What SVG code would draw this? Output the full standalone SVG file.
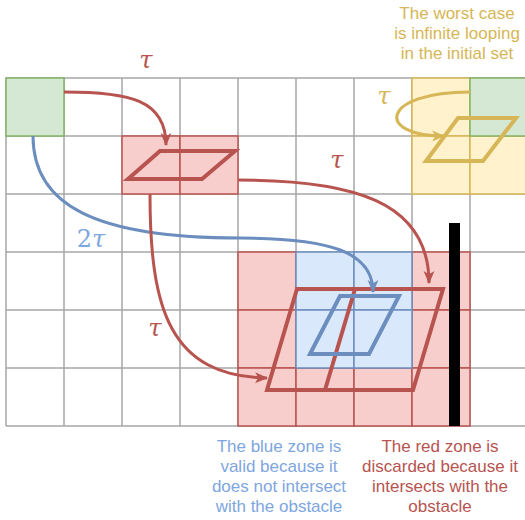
<svg xmlns="http://www.w3.org/2000/svg" width="525" height="520" viewBox="0 0 525 520">
<defs>
<style>
.grid{stroke:#a6a6a6;stroke-width:1.5;fill:none}
.g{fill:#d5e8d4;stroke:#82b366;stroke-width:1.5}
.y{fill:#fff2cc;stroke:#d6b656;stroke-width:1.5}
.r{fill:#f8cecc;stroke:#b85450;stroke-width:1.5}
.b{fill:#dae8fc;stroke:#6c8ebf;stroke-width:1.5}
.pr{fill:none;stroke:#b85450;stroke-width:4;stroke-linejoin:miter}
.pb{fill:none;stroke:#6c8ebf;stroke-width:4}
.py{fill:none;stroke:#d6b656;stroke-width:4}
.cr{fill:none;stroke:#b85450;stroke-width:3}
.cb{fill:none;stroke:#6c8ebf;stroke-width:3}
.cy{fill:none;stroke:#d6b656;stroke-width:3}
.t{font-family:"Liberation Sans",Arial,sans-serif;font-size:17px;text-anchor:middle}
.tau{font-family:"DejaVu Serif","Liberation Serif",serif;font-style:italic;font-size:24px;text-anchor:middle}
.two{font-family:"DejaVu Serif","Liberation Serif",serif;font-style:normal;font-size:24px;text-anchor:middle}
</style>
<marker id="ar" viewBox="0 0 12 12" refX="11" refY="6" markerWidth="13" markerHeight="13" markerUnits="userSpaceOnUse" orient="auto"><path d="M0,1 L12,6 L0,11 L3,6 z" fill="#b85450"/></marker>
<marker id="ab" viewBox="0 0 12 12" refX="11" refY="6" markerWidth="13" markerHeight="13" markerUnits="userSpaceOnUse" orient="auto"><path d="M0,1 L12,6 L0,11 L3,6 z" fill="#6c8ebf"/></marker>
<marker id="ay" viewBox="0 0 12 12" refX="11" refY="6" markerWidth="13" markerHeight="13" markerUnits="userSpaceOnUse" orient="auto"><path d="M0,1 L12,6 L0,11 L3,6 z" fill="#d6b656"/></marker>
</defs>
<rect width="525" height="520" fill="#ffffff"/>
<g id="grid" class="grid">
<path d="M6,78V426M64,78V426M122,78V426M180,78V426M238,78V426M296,78V426M354,78V426M412,78V426M470,78V426"/>
<path d="M6,78H528M6,136H528M6,194H528M6,252H528M6,310H528M6,368H528M6,426H528"/>
</g>
<g id="start">
<rect class="g" x="6" y="78" width="58" height="58"/>
</g>
<g id="yellow-zone">
<rect class="y" x="412" y="78" width="58" height="58"/>
<rect class="y" x="412" y="136" width="58" height="58"/>
<rect class="y" x="470" y="136" width="58" height="58"/>
<rect class="g" x="470" y="78" width="58" height="58"/>
<polygon class="py" points="458,118 516,118 483,161 426,161"/>
</g>
<g id="red-small">
<rect class="r" x="122" y="136" width="58" height="58"/>
<rect class="r" x="180" y="136" width="58" height="58"/>
<polygon class="pr" points="160,151 235,151 202,179 128,179"/>
</g>
<g id="red-zone">
<rect class="r" x="238" y="252" width="58" height="58"/>
<rect class="r" x="412" y="252" width="58" height="58"/>
<rect class="r" x="238" y="310" width="58" height="58"/>
<rect class="r" x="412" y="310" width="58" height="58"/>
<rect class="r" x="238" y="368" width="58" height="58"/>
<rect class="r" x="296" y="368" width="58" height="58"/>
<rect class="r" x="354" y="368" width="58" height="58"/>
<rect class="r" x="412" y="368" width="58" height="58"/>
</g>
<g id="blue-zone">
<rect class="b" x="296" y="252" width="58" height="58"/>
<rect class="b" x="354" y="252" width="58" height="58"/>
<rect class="b" x="296" y="310" width="58" height="58"/>
<rect class="b" x="354" y="310" width="58" height="58"/>
</g>
<g id="big-parallelogram">
<polygon class="pr" points="297,289 443,289 413,390 267,390"/>
<line class="pr" x1="355" y1="289" x2="325" y2="390"/>
</g>
<g id="blue-parallelogram">
<polygon class="pb" points="340,296 399,296 369,354 310,354"/>
</g>
<g id="obstacle">
<rect x="449" y="223" width="11" height="203" fill="#000000"/>
</g>
<g id="connectors">
<path class="cr" d="M64,92 C130,92 166,100 166,145" marker-end="url(#ar)"/>
<path class="cb" d="M33,136 C33,205 95,238 240,238 C330,238 373,252 373,292" marker-end="url(#ab)"/>
<path class="cr" d="M238,180 C350,180 429,200 429,283" marker-end="url(#ar)"/>
<path class="cr" d="M150,194 C150,310 170,376 267,378" marker-end="url(#ar)"/>
<path class="cy" d="M470,92 C380,92 375,136 444,136" marker-end="url(#ay)"/>
</g>
<g id="labels">
<text class="tau" x="146" y="68" fill="#b85450">τ</text>
<text class="tau" x="337" y="168" fill="#b85450">τ</text>
<text class="tau" x="155" y="336" fill="#b85450">τ</text>
<text class="tau" x="384" y="104" fill="#d6b656">τ</text>
<text class="two" x="91" y="247" fill="#7ea6e0">2<tspan style="font-style:italic">τ</tspan></text>
<text class="t" fill="#d6b656"><tspan x="457" y="19">The worst case</tspan><tspan x="457" y="39">is infinite looping</tspan><tspan x="457" y="59">in the initial set</tspan></text>
<text class="t" fill="#7ea6e0"><tspan x="279" y="452">The blue zone is</tspan><tspan x="279" y="472">valid because it</tspan><tspan x="279" y="492">does not intersect</tspan><tspan x="279" y="512">with the obstacle</tspan></text>
<text class="t" fill="#b85450"><tspan x="440" y="452">The red zone is</tspan><tspan x="440" y="472">discarded because it</tspan><tspan x="440" y="492">intersects with the</tspan><tspan x="440" y="512">obstacle</tspan></text>
</g>
</svg>
